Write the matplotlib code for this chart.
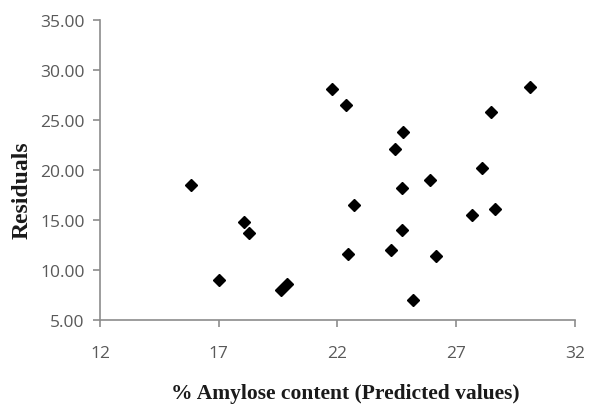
import matplotlib
matplotlib.use("Agg")
from matplotlib import pyplot as plt

# values
amylose = [15.83, 17.02, 18.08, 18.29, 19.62, 19.89, 21.78, 22.34, 22.69, 22.46,
           24.24, 24.42, 24.77, 24.73, 24.70, 25.19, 25.89, 26.13, 27.67, 28.07,
           28.46, 28.63, 30.10]
residuals = [18.47, 8.97, 14.80, 13.74, 7.95, 8.57, 28.07, 26.47, 16.50, 11.60,
             12.00, 22.04, 23.80, 18.17, 14.00, 6.97, 18.97, 11.40, 15.47, 20.14,
             25.74, 16.10, 28.27]
x_ticks = [12, 17, 22, 27, 32]
y_ticks = [5, 10, 15, 20, 25, 30, 35]

axis_grey = "#8c8c8c"
label_grey = "#595959"

fig = plt.figure(figsize=(5.93, 4.10), dpi=100)
ax = fig.add_axes([0.1686, 0.217, 0.801, 0.7325])

ax.plot(amylose, residuals, linestyle="none", marker="D", markersize=6.5,
        color="black")

ax.set_xlim(12, 32)
ax.set_ylim(5, 35)
ax.set_xticks(x_ticks)
ax.set_xticklabels([str(t) for t in x_ticks])
ax.set_yticks(y_ticks)
ax.set_yticklabels([f"{t:.2f}" for t in y_ticks])

for side in ["top", "right"]:
    ax.spines[side].set_visible(False)
for side in ["left", "bottom"]:
    ax.spines[side].set_color(axis_grey)
    ax.spines[side].set_linewidth(1.2)

ax.tick_params(axis="both", direction="out", length=5, width=1.2, color=axis_grey,
               labelcolor=label_grey, labelsize=12.5)
ax.tick_params(axis="x", pad=13)
ax.tick_params(axis="y", pad=6)
for lbl in ax.get_xticklabels() + ax.get_yticklabels():
    lbl.set_family("Open Sans")

fig.text(0.582, 0.04, "% Amylose content (Predicted values)", ha="center", va="center",
         family="Liberation Serif", fontweight="bold", fontsize=15.5, color="#1a1a1a")
fig.text(0.037, 0.537, "Residuals", ha="center", va="center", rotation=90,
         family="Liberation Serif", fontweight="bold", fontsize=17, color="#1a1a1a")

fig.savefig("out.png", dpi=100, facecolor="white")
